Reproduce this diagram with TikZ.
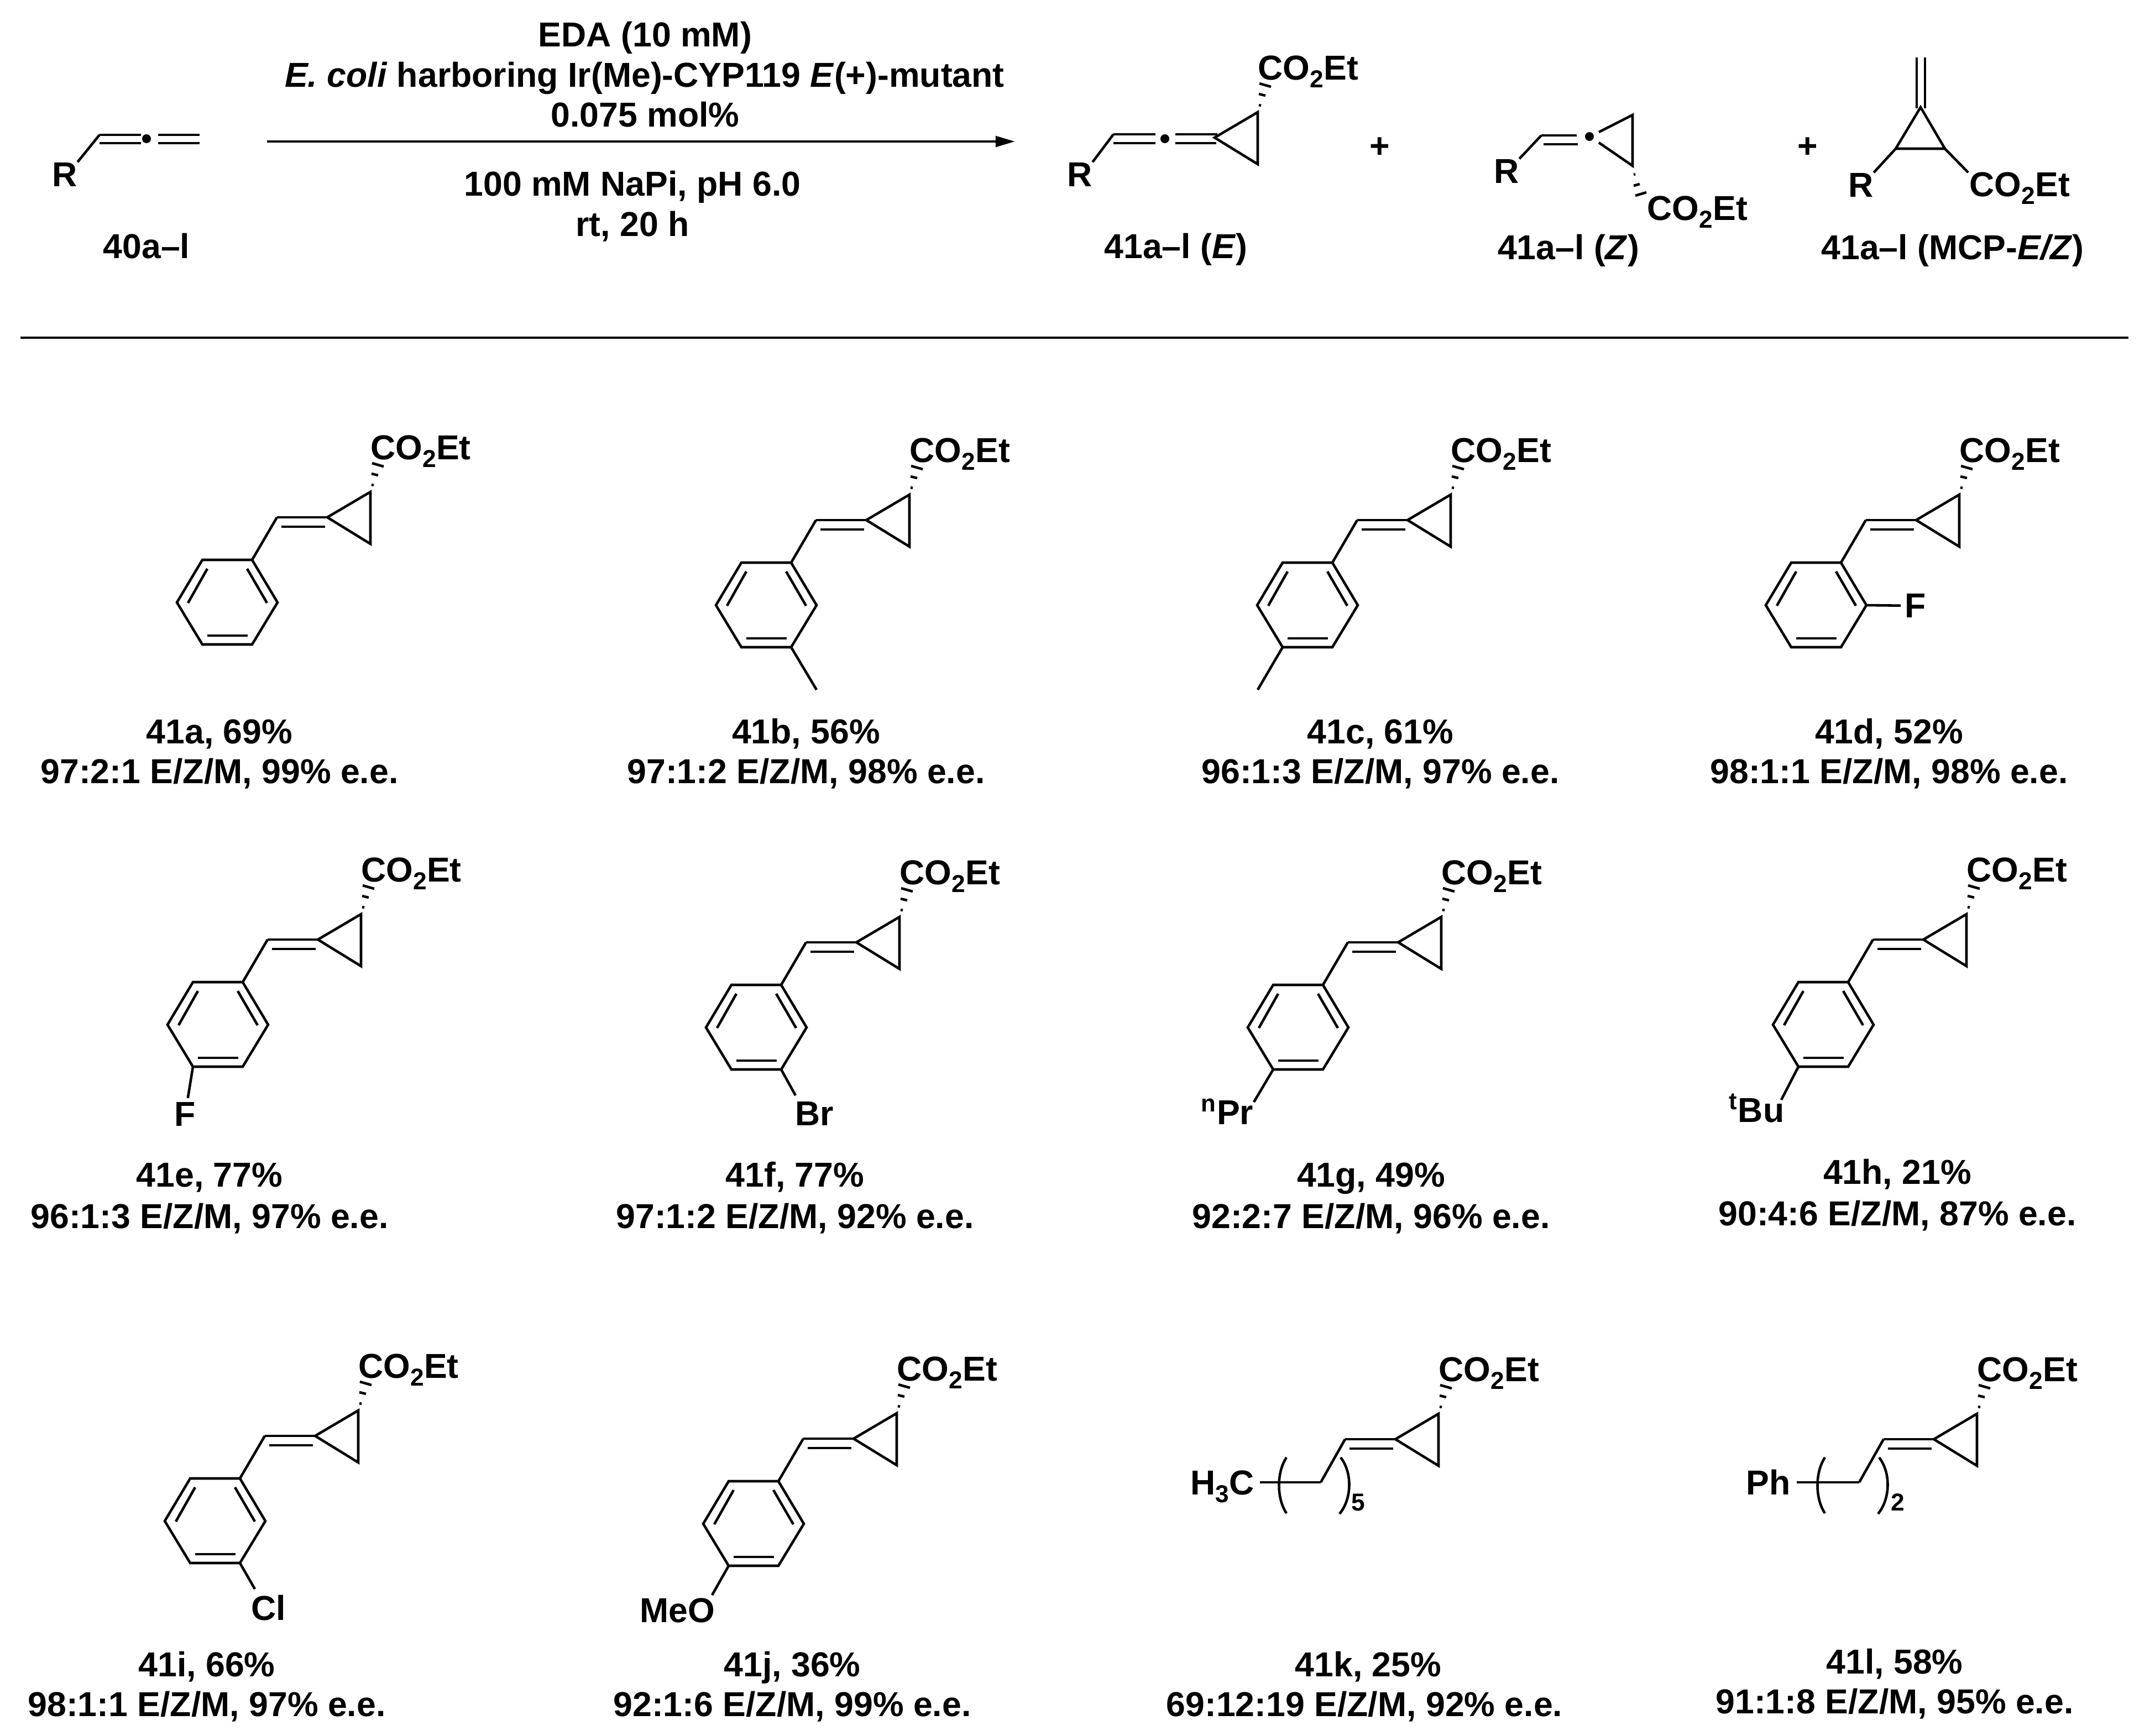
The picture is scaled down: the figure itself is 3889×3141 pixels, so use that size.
\documentclass[tikz,border=0pt]{standalone}
\usepackage{fontspec}
\setmainfont{Liberation Sans}
\usetikzlibrary{arrows.meta}

\tikzset{
  bnd/.style={line width=1.3pt},
  hashb/.style={line width=1.3pt},
  txt/.style={font=\fontsize{17.8}{20}\selectfont\bfseries,inner sep=0pt,anchor=base},
  subn/.style={font=\fontsize{12.6}{13}\selectfont\bfseries,inner sep=0pt,anchor=base},
  subst/.style={font=\fontsize{17.8}{20}\selectfont\bfseries,inner sep=2pt}
}

\newcommand{\lowsub}[1]{\raisebox{-0.23em}{\fontsize{12.6}{13}\selectfont #1}}
\newcommand{\cotwoet}{CO\lowsub{2}Et}

% cyclopropane with ester
\newcommand{\cpester}[1]{
  \coordinate (#1-cl) at (592,936);
  \coordinate (#1-ct) at (670,890);
  \coordinate (#1-cb) at (670,984);
  \draw[bnd] (#1-cl) -- (#1-ct) -- (#1-cb) -- cycle;
  \draw[hashb] (672,877) -- (676,878);
  \draw[hashb] (672,857) -- (684,860);
  \draw[hashb] (673,838) -- (694,844);
  \node[txt,anchor=base west] (#1-est) at (670,831) {\cotwoet};
}
\newcommand{\vinyl}{
  \draw[bnd] (501,936) -- (592,936);
  \draw[bnd] (509,953) -- (588,953);
}
% phenyl ring on the vinyl carbon
\newcommand{\phring}[1]{
  \coordinate (#1-1) at (456,1013);
  \coordinate (#1-2) at (502,1090);
  \coordinate (#1-3) at (456,1166);
  \coordinate (#1-4) at (366,1166);
  \coordinate (#1-5) at (320,1090);
  \coordinate (#1-6) at (366,1013);
  \draw[bnd] (501,936) -- (#1-1);
  \draw[bnd] (#1-1) -- (#1-2) -- (#1-3) -- (#1-4) -- (#1-5) -- (#1-6) -- cycle;
  \draw[bnd] (447,1029) -- (483,1091);
  \draw[bnd] (375,1029) -- (340,1091);
  \draw[bnd] (375,1150) -- (448,1150);
}
\newcommand{\chain}[1]{
  \coordinate (#1-n) at (457,1014);
  \draw[bnd] (501,936) -- (#1-n);
  \draw[bnd] (395,969) .. controls (377,996) and (377,1043) .. (395,1070);
  \draw[bnd] (493,969) .. controls (514,996) and (514,1043) .. (491,1071);
}

\begin{document}
\begin{tikzpicture}[x=0.01cm,y=-0.01cm]
\useasboundingbox (0,0) rectangle (3889,3141);

% scheme
\node[txt] (sm) at (117,337) {R};
\draw[bnd] (sm.north east) -- (180,244);
\draw[bnd] (180,244) -- (255,244);
\draw[bnd] (180,259) -- (255,259);
\fill (265,251) circle (8);
\draw[bnd] (286,244) -- (361,244);
\draw[bnd] (286,259) -- (361,259);
\node[txt] (smlab) at (265,467) {40a--l};

\node[txt] (cond1) at (1167,84) {EDA (10 mM)};
\node[txt] (cond2) at (1166,157) {\textit{E. coli} harboring Ir(Me)-CYP119 \textit{E}(+)-mutant};
\node[txt] (cond3) at (1167,229) {0.075 mol\%};
\node[txt] (cond4) at (1144,354) {100 mM NaPi, pH 6.0};
\node[txt] (cond5) at (1144,427) {rt, 20 h};
\coordinate (arrs) at (483,256);
\coordinate (arre) at (1836,256);
\draw[bnd,-{Triangle[length=10pt,width=5.5pt]}] (arrs) -- (arre);

\begin{scope}[shift={(1605,-687)}]
\cpester{pe}
\end{scope}
\node[txt] (per) at (1953,337) {R};
\draw[bnd] (per.north east) -- (2014,243);
\draw[bnd] (2014,243) -- (2090,243);
\draw[bnd] (2014,259) -- (2090,259);
\fill (2107,251) circle (8);
\draw[bnd] (2126,243) -- (2202,243);
\draw[bnd] (2126,259) -- (2200,259);
\node[txt] (pelab) at (2127,467) {41a--l (\textit{E})};

\node[txt] (plus1) at (2496,285) {+};

\node[txt] (pzr) at (2725,331) {R};
\draw[bnd] (pzr.north east) -- (2788,245);
\draw[bnd] (2788,245) -- (2852,245);
\draw[bnd] (2792,261) -- (2854,261);
\fill (2875,247) circle (8);
\draw[bnd] (2892,239) -- (2953,208) -- (2953,300) -- (2892,258);
\draw[hashb] (2955,316) -- (2958,315);
\draw[hashb] (2955,336) -- (2966,333);
\draw[hashb] (2958,354) -- (2978,348);
\node[txt,anchor=base west] (pzest) at (2979,398) {\cotwoet};
\node[txt] (pzlab) at (2837,469) {41a--l (\textit{Z})};

\node[txt] (plus2) at (3270,285) {+};

\node[txt] (pmr) at (3366,356) {R};
\node[txt,anchor=base west] (pmest) at (3562,355) {\cotwoet};
\coordinate (pma) at (3474,194);
\coordinate (pml) at (3429,269);
\coordinate (pmb) at (3518,269);
\draw[bnd] (pma) -- (pml) -- (pmb) -- cycle;
\draw[bnd] (pml) -- (pmr.north east);
\draw[bnd] (pmb) -- (3560,312);
\draw[bnd] (3467,104) -- (3467,196);
\draw[bnd] (3482,104) -- (3482,196);
\node[txt] (pmlab) at (3532,469) {41a--l (MCP-\textit{E/Z})};

\coordinate (rulea) at (37,611);
\coordinate (ruleb) at (3850,611);
\draw[bnd] (rulea) -- (ruleb);

% first row
\begin{scope}
\cpester{a} \vinyl \phring{a}
\end{scope}
\node[txt] (alab1) at (397,1345) {41a, 69\%};
\node[txt] (alab2) at (397,1417) {97:2:1 E/Z/M, 99\% e.e.};

\begin{scope}[shift={(975,5)}]
\cpester{b} \vinyl \phring{b}
\coordinate (bme) at (502,1243);
\draw[bnd] (b-3) -- (bme);
\end{scope}
\node[txt] (blab1) at (1458,1345) {41b, 56\%};
\node[txt] (blab2) at (1458,1417) {97:1:2 E/Z/M, 98\% e.e.};

\begin{scope}[shift={(1954,5)}]
\cpester{c} \vinyl \phring{c}
\coordinate (cme) at (321,1243);
\draw[bnd] (c-4) -- (cme);
\end{scope}
\node[txt] (clab1) at (2497,1345) {41c, 61\%};
\node[txt] (clab2) at (2497,1417) {96:1:3 E/Z/M, 97\% e.e.};

\begin{scope}[shift={(2874,5)}]
\cpester{d} \vinyl \phring{d}
\node[subst] (df) at (591,1091) {F};
\draw[bnd] (d-2) -- (df);
\end{scope}
\node[txt] (dlab1) at (3417,1345) {41d, 52\%};
\node[txt] (dlab2) at (3417,1417) {98:1:1 E/Z/M, 98\% e.e.};

% second row
\begin{scope}[shift={(-17,764)}]
\cpester{e} \vinyl \phring{e}
\node[subst] (ef) at (352,1252) {F};
\draw[bnd] (e-4) -- (ef);
\end{scope}
\node[txt] (elab1) at (379,2147) {41e, 77\%};
\node[txt] (elab2) at (379,2222) {96:1:3 E/Z/M, 97\% e.e.};

\begin{scope}[shift={(957,769)}]
\cpester{f} \vinyl \phring{f}
\node[txt,anchor=base west] (fbr) at (481,1267) {Br};
\coordinate (fend) at (482,1213);
\draw[bnd] (f-3) -- (fend);
\end{scope}
\node[txt] (flab1) at (1438,2147) {41f, 77\%};
\node[txt] (flab2) at (1438,2222) {97:1:2 E/Z/M, 92\% e.e.};

\begin{scope}[shift={(1937,769)}]
\cpester{g} \vinyl \phring{g}
\node[txt,anchor=base east] (gpr) at (331,1265) {\textsuperscript{n}Pr};
\coordinate (gend) at (331,1225);
\draw[bnd] (g-4) -- (gend);
\end{scope}
\node[txt] (glab1) at (2480,2147) {41g, 49\%};
\node[txt] (glab2) at (2480,2222) {92:2:7 E/Z/M, 96\% e.e.};

\begin{scope}[shift={(2887,764)}]
\cpester{h} \vinyl \phring{h}
\node[txt,anchor=base east] (hbu) at (341,1266) {\textsuperscript{t}Bu};
\coordinate (hend) at (335,1226);
\draw[bnd] (h-4) -- (hend);
\end{scope}
\node[txt] (hlab1) at (3432,2142) {41h, 21\%};
\node[txt] (hlab2) at (3432,2217) {90:4:6 E/Z/M, 87\% e.e.};

% third row
\begin{scope}[shift={(-22,1662)}]
\cpester{i} \vinyl \phring{i}
\node[txt,anchor=base west] (icl) at (476,1269) {Cl};
\coordinate (iend) at (483,1213);
\draw[bnd] (i-3) -- (iend);
\end{scope}
\node[txt] (ilab1) at (374,3033) {41i, 66\%};
\node[txt] (ilab2) at (374,3105) {98:1:1 E/Z/M, 97\% e.e.};

\begin{scope}[shift={(952,1667)}]
\cpester{j} \vinyl \phring{j}
\node[txt,anchor=base east] (jmeo) at (342,1268) {MeO};
\coordinate (jend) at (336,1219);
\draw[bnd] (j-4) -- (jend);
\end{scope}
\node[txt] (jlab1) at (1433,3033) {41j, 36\%};
\node[txt] (jlab2) at (1433,3105) {92:1:6 E/Z/M, 99\% e.e.};

\begin{scope}[shift={(1932,1668)}]
\cpester{k} \vinyl \chain{k}
\node[txt,anchor=base east] (kme) at (337,1036) {H\lowsub{3}C};
\coordinate (kend) at (347,1014);
\draw[bnd] (k-n) -- (kend);
\node[subn] (kn) at (525,1065) {5};
\end{scope}
\node[txt] (klab1) at (2475,3033) {41k, 25\%};
\node[txt] (klab2) at (2468,3105) {69:12:19 E/Z/M, 92\% e.e.};

\begin{scope}[shift={(2906,1668)}]
\cpester{l} \vinyl \chain{l}
\node[txt,anchor=base east] (lph) at (333,1036) {Ph};
\coordinate (lend) at (344,1014);
\draw[bnd] (l-n) -- (lend);
\node[subn] (ln) at (527,1065) {2};
\end{scope}
\node[txt] (llab1) at (3427,3028) {41l, 58\%};
\node[txt] (llab2) at (3427,3100) {91:1:8 E/Z/M, 95\% e.e.};
\end{tikzpicture}
\end{document}
